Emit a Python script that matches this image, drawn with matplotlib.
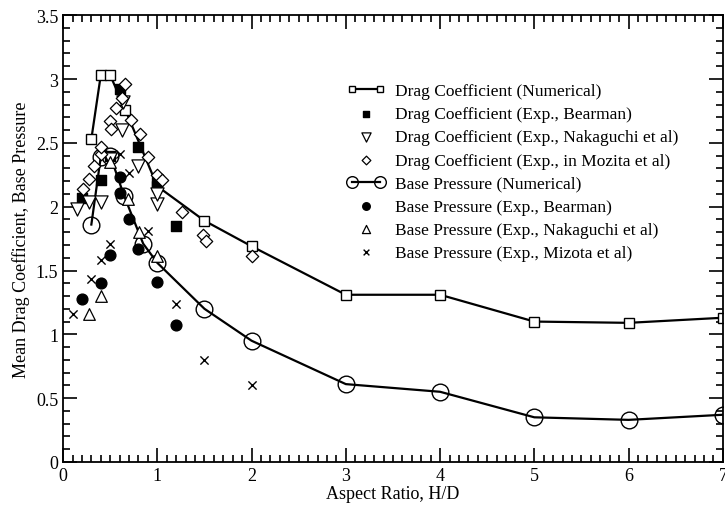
import numpy as np
import matplotlib
matplotlib.use("Agg")
import matplotlib.pyplot as plt
from matplotlib.ticker import MultipleLocator, FormatStrFormatter

plt.rcParams["font.family"] = ["Liberation Serif", "DejaVu Serif"]

# Resultados numericos
cd_num_x = [0.3, 0.4, 0.5, 0.66, 1.0, 1.5, 2.0, 3.0, 4.0, 5.0, 6.0, 7.0]
cd_num_y = [2.53, 3.03, 3.03, 2.76, 2.16, 1.89, 1.69, 1.31, 1.31, 1.10, 1.09, 1.13]
cp_num_x = [0.3, 0.4, 0.5, 0.65, 0.85, 1.0, 1.5, 2.0, 3.0, 4.0, 5.0, 6.0, 7.0]
cp_num_y = [1.86, 2.39, 2.40, 2.08, 1.71, 1.56, 1.20, 0.95, 0.61, 0.55, 0.35, 0.33, 0.37]

# Experimentales - coeficiente de arrastre
cd_bearman_x = [0.2, 0.4, 0.5, 0.6, 0.8, 1.0, 1.2]
cd_bearman_y = [2.07, 2.21, 2.40, 2.92, 2.47, 2.19, 1.85]
cd_naka_x = [0.15, 0.28, 0.4, 0.5, 0.62, 0.64, 0.8, 1.0, 1.0]
cd_naka_y = [1.98, 2.04, 2.04, 2.37, 2.60, 2.82, 2.32, 2.02, 2.10]
cd_mozita_x = [0.21, 0.27, 0.33, 0.4, 0.4, 0.5, 0.51, 0.56, 0.62, 0.66, 0.72, 0.82,
               0.9, 1.0, 1.05, 1.26, 1.48, 1.52, 2.0]
cd_mozita_y = [2.14, 2.22, 2.32, 2.41, 2.47, 2.67, 2.61, 2.77, 2.85, 2.96, 2.68, 2.57,
               2.39, 2.25, 2.21, 1.96, 1.78, 1.73, 1.61]

# Experimentales - presion de base
cp_bearman_x = [0.2, 0.4, 0.5, 0.6, 0.6, 0.7, 0.8, 1.0, 1.2]
cp_bearman_y = [1.28, 1.40, 1.62, 2.11, 2.23, 1.90, 1.67, 1.41, 1.07]
cp_naka_x = [0.27, 0.4, 0.5, 0.69, 0.81, 1.0]
cp_naka_y = [1.16, 1.30, 2.35, 2.06, 1.80, 1.61]
cp_mizota_x = [0.1, 0.3, 0.4, 0.5, 0.6, 0.7, 0.9, 1.2, 1.5, 2.0]
cp_mizota_y = [1.16, 1.43, 1.58, 1.71, 2.41, 2.26, 1.81, 1.24, 0.80, 0.60]

fig = plt.figure(figsize=(7.25, 5.06), dpi=100)
ax = fig.add_axes([0.087, 0.085, 0.910, 0.883])

ax.plot(cd_num_x, cd_num_y, color="black", lw=1.6, marker="s", ms=7,
        mfc="white", mec="black", mew=1.0, label="Drag Coefficient (Numerical)")
ax.scatter(cd_bearman_x, cd_bearman_y, marker="s", s=45, color="black",
           label="Drag Coefficient (Exp., Bearman)", zorder=3)
ax.scatter(cd_naka_x, cd_naka_y, marker="v", s=90, facecolors="white",
           edgecolors="black", linewidths=0.9,
           label="Drag Coefficient (Exp., Nakaguchi et al)", zorder=3)
ax.scatter(cd_mozita_x, cd_mozita_y, marker="D", s=40, facecolors="white",
           edgecolors="black", linewidths=0.9,
           label="Drag Coefficient (Exp., in Mozita et al)", zorder=3)
ax.plot(cp_num_x, cp_num_y, color="black", lw=1.6, marker="o", ms=12,
        mfc="none", mec="black", mew=1.0, label="Base Pressure (Numerical)")
ax.scatter(cp_bearman_x, cp_bearman_y, marker="o", s=60, color="black",
           label="Base Pressure (Exp., Bearman)", zorder=3)
ax.scatter(cp_naka_x, cp_naka_y, marker="^", s=70, facecolors="white",
           edgecolors="black", linewidths=0.9,
           label="Base Pressure (Exp., Nakaguchi et al)", zorder=3)
ax.scatter(cp_mizota_x, cp_mizota_y, marker="x", s=35, color="black",
           linewidths=1.0, label="Base Pressure (Exp., Mizota et al)", zorder=3)

ax.set_xlim(0, 7)
ax.set_ylim(0, 3.5)
ax.xaxis.set_major_locator(MultipleLocator(1))
ax.xaxis.set_minor_locator(MultipleLocator(0.1))
ax.yaxis.set_major_locator(MultipleLocator(0.5))
ax.yaxis.set_minor_locator(MultipleLocator(0.1))
ax.yaxis.set_major_formatter(FormatStrFormatter("%g"))
ax.tick_params(which="both", direction="in", top=True, right=True,
               labelsize=13, width=1.2)
ax.tick_params(which="major", length=10)
ax.tick_params(which="minor", length=5)
for s in ax.spines.values():
    s.set_linewidth(1.3)

ax.set_xlabel("Aspect Ratio, H/D", fontsize=13, labelpad=1)
ax.set_ylabel("Mean Drag Coefficient, Base Pressure", fontsize=13, labelpad=4)

leg = ax.legend(loc="upper left", bbox_to_anchor=(0.43, 0.848), frameon=False,
                fontsize=12.5, numpoints=2, scatterpoints=1, handlelength=2.2,
                labelspacing=0.4, handletextpad=0.6, markerscale=0.7,
                borderpad=0, borderaxespad=0)

fig.savefig("out.png", dpi=100)
